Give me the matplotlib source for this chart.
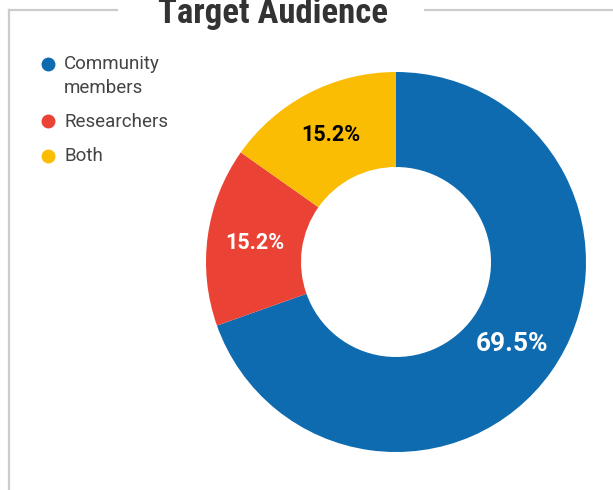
import numpy as np
import matplotlib.pyplot as plt
from matplotlib import font_manager
from matplotlib.lines import Line2D

categories = ["Community\nmembers", "Researchers", "Both"]
values = [69.5, 15.2, 15.2]
colors = ["#0e6bb0", "#ea4335", "#fbbc04"]
label_colors = ["white", "white", "black"]
label_sizes = [19, 15.5, 15.5]

W, H = 613, 490
fig = plt.figure(figsize=(W / 100, H / 100), dpi=100)
plt.rcParams['font.family'] = ['Roboto', 'DejaVu Sans']

installed = {f.name for f in font_manager.fontManager.ttflist}
if "Roboto Condensed" in installed:
    title_font, title_size = "Roboto Condensed", 25
else:
    title_font, title_size = "Roboto", 23.5

# donut: centre (396, 262) px, radius 190 px
cx, cy, r = 396, 262, 190
ax = fig.add_axes([(cx - r) / W, (H - cy - r) / H, 2 * r / W, 2 * r / H])
wedges, texts = ax.pie(
    values, colors=colors, startangle=90, counterclock=False,
    radius=1, wedgeprops=dict(width=0.5, linewidth=0),
)
for w, v, c, s in zip(wedges, values, label_colors, label_sizes):
    ang = np.deg2rad((w.theta1 + w.theta2) / 2)
    ax.text(0.75 * np.cos(ang), 0.75 * np.sin(ang), f"{v:.1f}%",
            ha="center", va="center", color=c, fontsize=s, fontweight="bold")
ax.set_xlim(-1, 1)
ax.set_ylim(-1, 1)
ax.axis("off")

# frame lines like a fieldset
gray = "#cccccc"
def px(x, y):
    return x / W, 1 - y / H
for (x0, y0), (x1, y1) in [((9, 10), (117, 10)), ((425, 10), (613, 10)), ((9, 10), (9, 490))]:
    a, b = px(x0, y0)
    c, d = px(x1, y1)
    fig.add_artist(Line2D([a, c], [b, d], color=gray, lw=1.6, transform=fig.transFigure))

fig.text(273 / W, 1 - 23.5 / H, "Target Audience", ha="center", va="baseline",
         fontsize=title_size, fontweight="bold", color="#333333", family=title_font)

# legend
dot_y = [64, 121, 156]
base_y = [69, 127, 161]
for lab, col, yd, yb in zip(categories, colors, dot_y, base_y):
    fig.add_artist(Line2D([48 / W], [1 - yd / H], marker="o", markersize=9,
                          color=col, linestyle="none", transform=fig.transFigure))
    first, *rest = lab.split("\n")
    fig.text(64 / W, 1 - yb / H, first, ha="left", va="baseline", fontsize=13.5,
             color="#444444")
    for k, line in enumerate(rest, start=1):
        fig.text(64 / W, 1 - (yb + 24 * k) / H, line, ha="left", va="baseline",
                 fontsize=13.5, color="#444444")

fig.savefig("out.png", dpi=100)
